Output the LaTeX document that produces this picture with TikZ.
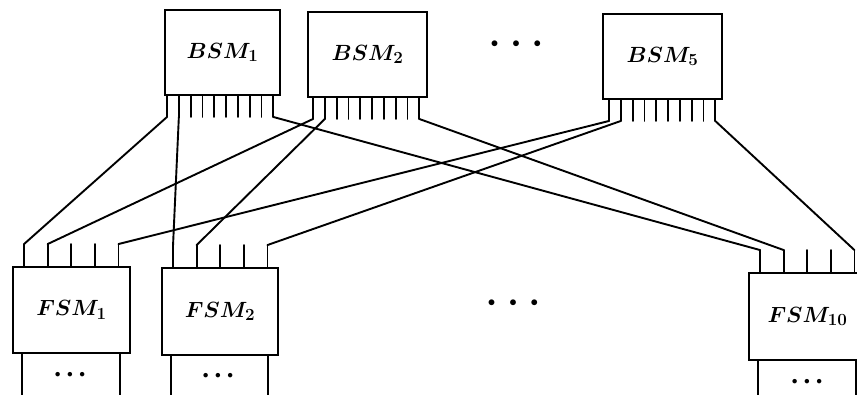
\RequirePackage{fix-cm}
\documentclass[tikz,border=0pt]{standalone}
\usetikzlibrary{calc}
\DeclareMathSizes{22}{22}{17}{13}
\begin{document}
\begin{tikzpicture}[x=1pt,y=-1pt,
  wire/.style={line width=1.9pt, line cap=round, line join=round},
  module/.style={draw, line width=1.9pt, rectangle, inner sep=0pt,
    font=\fontsize{22}{26}\selectfont\boldmath},
  bigdots/.style={inner sep=0pt, font=\fontsize{15}{17}\selectfont},
  smalldots/.style={inner sep=0pt, font=\fontsize{11.5}{13}\selectfont}]
\clip (0,0) rectangle (857,394);

% back-side modules
\node[module, minimum width=115pt, minimum height=85pt] (b1) at (222.5,52.5) {$BSM_1$};
\node[module, minimum width=119pt, minimum height=85pt] (b2) at (367.5,54.5) {$BSM_2$};
\node[module, minimum width=119pt, minimum height=85pt] (b5) at (662.5,56.5) {$BSM_5$};

% front-side modules
\node[module, minimum width=117pt, minimum height=86pt] (f1) at (71.5,310) {$FSM_1$};
\node[module, minimum width=116pt, minimum height=87pt] (f2) at (220,311.5) {$FSM_2$};
\node[module, minimum width=117pt, minimum height=87pt] (f10) at (807.5,316.5) {$FSM_{10}$};

% ten pins under each back-side module
\foreach \b/\off in {b1/3, b2/6, b5/7} {
  \foreach \k in {1,...,10} {
    \coordinate (\b-\k) at ($(\b.south west)+({\off+11.8*(\k-1)},21)$);
    \draw[wire] (\b-\k |- \b.south) -- (\b-\k);
  }
}

% five pins on top of each front-side module, two legs below
\foreach \f in {f1, f2, f10} {
  \foreach \k in {1,...,5} {
    \coordinate (\f-\k) at ($(\f.north west)+({12+23.6*(\k-1)},-22)$);
    \draw[wire] (\f-\k |- \f.north) -- (\f-\k);
  }
  \coordinate (\f-legl) at ($(\f.south west)+(10,0)$);
  \coordinate (\f-legr) at ($(\f.south east)+(-11,0)$);
  \draw[wire] (\f-legl) -- ++(0,50);
  \draw[wire] (\f-legr) -- ++(0,50);
}

% links between back-side and front-side modules
\draw[wire] (b1-1) -- (f1-1);
\draw[wire] (b1-2) -- (f2-1);
\draw[wire] (b1-10) -- (f10-1);
\draw[wire] (b2-1) -- (f1-2);
\draw[wire] (b2-2) -- (f2-2);
\draw[wire] (b2-10) -- (f10-2);
\draw[wire] (b5-1) -- (f1-5);
\draw[wire] (b5-2) -- (f2-5);
\draw[wire] (b5-10) -- (f10-5);

% ellipses
\node[bigdots] (gaptop) at (516,44) {${\bullet}\hspace{14pt}{\bullet}\hspace{14pt}{\bullet}$};
\node[bigdots] (gapmid) at (513,303) {${\bullet}\hspace{14pt}{\bullet}\hspace{14pt}{\bullet}$};
\node[smalldots] (d1) at (70,375) {${\bullet}\hspace{6.5pt}{\bullet}\hspace{6.5pt}{\bullet}$};
\node[smalldots] (d2) at (218,376) {${\bullet}\hspace{6.5pt}{\bullet}\hspace{6.5pt}{\bullet}$};
\node[smalldots] (d10) at (807,382) {${\bullet}\hspace{6.5pt}{\bullet}\hspace{6.5pt}{\bullet}$};
\end{tikzpicture}
\end{document}
